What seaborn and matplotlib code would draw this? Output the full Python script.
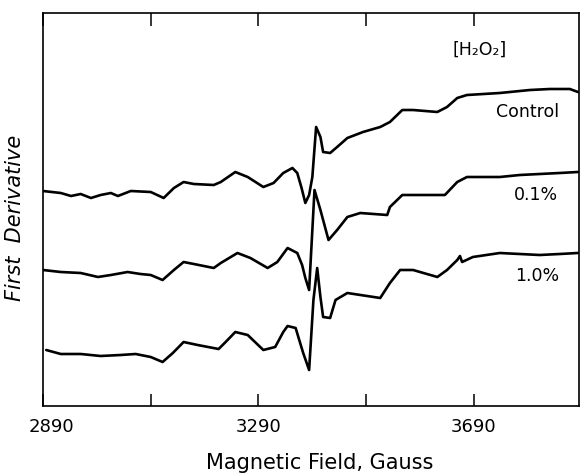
import matplotlib
matplotlib.use("Agg")
import matplotlib.pyplot as plt
import matplotlib.transforms as mtransforms
import seaborn as sns
import pandas as pd

# ---- data (arbitrary intensity units) ----
control_field = [2890, 2923, 2942, 2960, 2979, 2997, 3016, 3029, 3053, 3090, 3114, 3133, 3151,
                 3170, 3207, 3220, 3247, 3270, 3299, 3318, 3336, 3353, 3362, 3370, 3377, 3384,
                 3390, 3397, 3405, 3410, 3423, 3436, 3455, 3484, 3516, 3534, 3557, 3577, 3622,
                 3640, 3659, 3677, 3738, 3794, 3831, 3868, 3883]
control_signal = [215, 213, 210, 212, 208, 211, 213, 210, 215, 214, 208, 218, 224,
                  222, 221, 224, 234, 229, 219, 223, 233, 238, 233, 218, 203, 211,
                  229, 279, 269, 254, 253, 259, 268, 274, 279, 284, 296, 296, 294,
                  299, 308, 311, 313, 316, 317, 317, 314]

p01_field = [2890, 2923, 2960, 2992, 3016, 3047, 3071, 3090, 3112, 3133, 3151, 3170, 3207,
             3220, 3251, 3275, 3307, 3325, 3344, 3362, 3371, 3377, 3384, 3394, 3405, 3420,
             3436, 3455, 3479, 3529, 3534, 3557, 3590, 3636, 3659, 3677, 3738, 3775, 3812,
             3849, 3883]
p01_signal = [136, 134, 133, 129, 131, 134, 132, 131, 126, 136, 144, 142, 138,
              143, 153, 148, 138, 144, 158, 153, 141, 128, 116, 216, 196, 166,
              176, 189, 193, 191, 199, 211, 211, 211, 224, 229, 229, 231, 232,
              233, 234]

p10_field = [2896, 2923, 2960, 2997, 3034, 3062, 3090, 3112, 3131, 3151, 3177, 3216, 3229,
             3247, 3270, 3299, 3321, 3336, 3344, 3359, 3364, 3373, 3384, 3392, 3399, 3405,
             3410, 3423, 3433, 3455, 3516, 3534, 3553, 3577, 3622, 3640, 3659, 3664, 3668,
             3688, 3738, 3775, 3812, 3849, 3883]
p10_signal = [56, 52, 52, 50, 51, 52, 49, 44, 53, 64, 61, 57, 64,
              74, 71, 56, 59, 74, 80, 78, 69, 53, 36, 106, 138, 109,
              89, 88, 106, 113, 108, 123, 136, 136, 129, 136, 146, 150, 144,
              149, 153, 152, 151, 152, 153]

series_names = ["Control", "0.1%", "1.0%"]
x_ticks = [2890, 3290, 3690]
x_tick_labels = ["2890", "3290", "3690"]
x_minor_ticks = [3090, 3490]

df = pd.concat([
    pd.DataFrame({"field": control_field, "signal": control_signal, "sample": series_names[0]}),
    pd.DataFrame({"field": p01_field, "signal": p01_signal, "sample": series_names[1]}),
    pd.DataFrame({"field": p10_field, "signal": p10_signal, "sample": series_names[2]}),
], ignore_index=True)

sns.set_style("ticks")
plt.rcParams["font.family"] = ["DejaVu Sans"]
plt.rcParams["text.color"] = "black"
plt.rcParams["xtick.color"] = "black"
plt.rcParams["xtick.labelcolor"] = "black"

fig = plt.figure(figsize=(5.8, 4.75), dpi=100)
ax = fig.add_axes([43/580, 1 - 406/475, (579 - 43)/580, (406 - 13)/475])

sns.lineplot(data=df, x="field", y="signal", units="sample", estimator=None, sort=False,
             color="black", linewidth=1.9, ax=ax, legend=False)
for ln in ax.lines:
    ln.set_solid_joinstyle("round")
    ln.set_solid_capstyle("round")

ax.set_xlim(2890, 3885)
ax.set_ylim(0, 393)
ax.set_xticks(x_ticks)
ax.set_xticklabels(x_tick_labels, fontsize=13, color="black")
ax.set_xticks(x_minor_ticks, minor=True)
ax.set_yticks([])
ax.tick_params(axis="x", which="both", direction="in", length=9, width=1.1,
               top=True, bottom=True, pad=9, color="black")
ax.set_xlabel("")
ax.set_ylabel("")
for s in ax.spines.values():
    s.set_visible(True)
    s.set_color("black")
    s.set_linewidth(1.2)

# shift first tick label a bit right like the reference
lbl = ax.get_xticklabels()[0]
lbl.set_transform(lbl.get_transform() + mtransforms.ScaledTranslation(8/100, 0, fig.dpi_scale_trans))

fig.text(320/580, 1 - 463/475, "Magnetic Field, Gauss", ha="center", va="center",
         fontsize=15, color="black")
fig.text(15/580, 1 - 218/475, "First  Derivative", ha="center", va="center", fontsize=15,
         rotation=90, style="italic", color="black")

ax.text(3700, 356, "[H₂O₂]", ha="center", va="center", fontsize=12.5, color="black")
ax.text(3790, 294, "Control", ha="center", va="center", fontsize=12.5, color="black")
ax.text(3805, 211, "0.1%", ha="center", va="center", fontsize=12.5, color="black")
ax.text(3808, 130, "1.0%", ha="center", va="center", fontsize=12.5, color="black")

fig.savefig("out.png", dpi=100)
